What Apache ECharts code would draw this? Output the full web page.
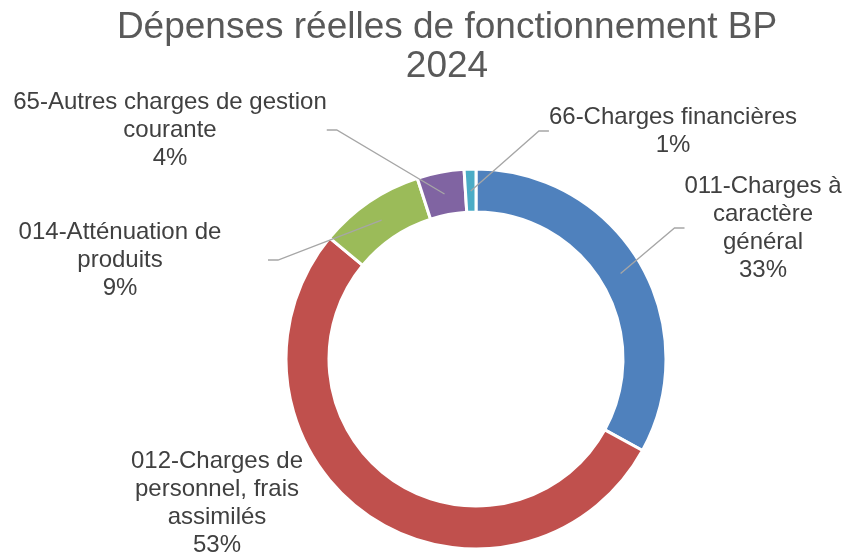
<!DOCTYPE html>
<html>
<head>
<meta charset="utf-8">
<script src="https://cdn.jsdelivr.net/npm/echarts@6/dist/echarts.min.js"></script>
<style>
  html, body { margin: 0; padding: 0; background: #fff; }
  #myChart { width: 846px; height: 552px; }
</style>
</head>
<body>
<div id="myChart"></div>
<script>
// données (parts en %)
var categories = [
  "011-Charges à caractère général",
  "012-Charges de personnel, frais assimilés",
  "014-Atténuation de produits",
  "65-Autres charges de gestion courante",
  "66-Charges financières"
];
var wrappedLabels = [
  "011-Charges à\ncaractère\ngénéral",
  "012-Charges de\npersonnel, frais\nassimilés",
  "014-Atténuation de\nproduits",
  "65-Autres charges de gestion\ncourante",
  "66-Charges financières"
];
var shares = [33, 53, 9, 4, 1];
var colors = ["#4F81BD", "#C0504D", "#9BBB59", "#8064A2", "#4BACC6"];

// emplacement des étiquettes (centre du bloc de texte)
var labelSpots = [[763, 228], [217, 503], [120, 260], [170, 130], [673, 131]];
var labelWidths = [null, null, 296, null, null];

var myChart = echarts.init(document.getElementById("myChart"));

var ringData = categories.map(function (c, i) {
  return { name: c, value: shares[i], itemStyle: { color: colors[i] } };
});
var labelData = categories.map(function (c, i) {
  var item = { name: c, value: shares[i] };
  if (labelWidths[i]) item.label = { width: labelWidths[i] };
  if (i === 1) item.labelLine = { show: false };
  return item;
});

myChart.setOption({
  animation: false,
  title: {
    text: "Dépenses réelles de fonctionnement BP\n2024",
    left: 447,
    top: 8,
    padding: 0,
    textAlign: "center",
    textStyle: {
      fontFamily: "Liberation Sans",
      fontSize: 37,
      fontWeight: "normal",
      color: "#595959",
      lineHeight: 39
    }
  },
  series: [
    {
      name: "anneau",
      type: "pie",
      z: 1,
      center: [476, 359],
      radius: [147, 190],
      startAngle: 90,
      clockwise: true,
      silent: true,
      label: { show: false },
      labelLine: { show: false },
      itemStyle: { borderColor: "#fff", borderWidth: 3 },
      data: ringData
    },
    {
      name: "etiquettes",
      type: "pie",
      z: 5,
      center: [476, 359],
      radius: [0, 168],
      startAngle: 90,
      clockwise: true,
      silent: true,
      avoidLabelOverlap: false,
      itemStyle: { color: "rgba(0,0,0,0)" },
      label: {
        show: true,
        position: "outside",
        fontFamily: "Liberation Sans",
        fontSize: 24,
        lineHeight: 28,
        color: "#404040",
        align: "center",
        formatter: function (p) {
          return wrappedLabels[p.dataIndex] + "\n" + p.percent + "%";
        }
      },
      labelLine: {
        show: true,
        length: 10,
        length2: 10,
        minTurnAngle: 0,
        lineStyle: { color: "#A6A6A6", width: 1.3 }
      },
      labelLayout: function (params) {
        var s = labelSpots[params.dataIndex];
        return { x: s[0], y: s[1], align: "center", verticalAlign: "middle" };
      },
      data: labelData
    }
  ]
});
</script>
</body>
</html>
